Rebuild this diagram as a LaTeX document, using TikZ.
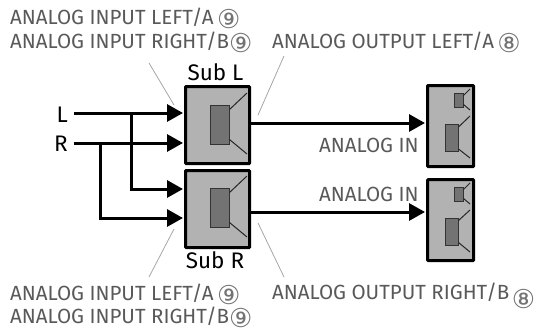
\documentclass[tikz,border=0pt]{standalone}
\usepackage{fontspec}
\setmainfont{Fira Sans}
\newfontfamily\circfont{DejaVu Sans}
\usepackage{xcolor}
\usepackage{tikz}
\usetikzlibrary{arrows.meta, positioning}
\newcommand{\circnine}{\raisebox{-4pt}{\circfont\fontsize{26}{26}\selectfont\color{black!55}⑨}}
\newcommand{\circeight}{\raisebox{-4pt}{\circfont\fontsize{26}{26}\selectfont\color{black!55}⑧}}

\begin{document}
\begin{tikzpicture}[
    x=1pt, y=-1pt,
    cabinet/.style={draw, line width=3.2pt, rounded corners=0.8pt, fill=black!30, inner sep=0pt, anchor=north west},
    driver/.style={draw=black!80, line width=1pt, fill=black!55, inner sep=0pt, anchor=north west},
    cone/.style={draw=black!85, line width=1pt},
    annot/.style={text=black!65, font=\fontsize{20.5}{20.5}\selectfont, anchor=base west, inner sep=0pt},
    spkname/.style={text=black, font=\fontsize{22.5}{22.5}\selectfont, anchor=base, inner sep=0pt},
    wire/.style={line width=3pt},
    arrow/.style={wire, -{Triangle[length=16pt, width=17pt]}},
    leader/.style={draw=black!35, line width=0.8pt}
]
\useasboundingbox (0,0) rectangle (534,332);
% subwoofers
\node[cabinet, minimum width=64pt, minimum height=77pt] (subL) at (184,85) {};
\node[cabinet, minimum width=64pt, minimum height=77pt] (subR) at (184,169) {};
\node[driver, minimum width=19pt, minimum height=39pt] (subLdrv) at (209.5,104.5) {};
\node[driver, minimum width=19pt, minimum height=39pt] (subRdrv) at (209.5,187.5) {};
% main speakers
\node[cabinet, minimum width=46pt, minimum height=81pt] (topL) at (426,84) {};
\node[cabinet, minimum width=46pt, minimum height=81pt] (topR) at (426,178) {};
\node[driver, minimum width=9pt, minimum height=14pt] (topLtw) at (453.5,92.5) {};
\node[driver, minimum width=9pt, minimum height=14pt] (topRtw) at (453.5,186.5) {};
\node[driver, minimum width=13pt, minimum height=27pt] (topLwf) at (444.5,124) {};
\node[driver, minimum width=13pt, minimum height=27pt] (topRwf) at (444.5,217.5) {};
% cones
\coordinate (c1) at (247,93);  \coordinate (c2) at (247,154);
\coordinate (c3) at (247,176); \coordinate (c4) at (247,237);
\draw[cone] (subLdrv.north east) ++(0,5) -- (c1); \draw[cone] (subLdrv.south east) ++(0,-5) -- (c2);
\draw[cone] (subRdrv.north east) ++(0,5) -- (c3); \draw[cone] (subRdrv.south east) ++(0,-5) -- (c4);
\coordinate (t1) at (470,89);  \coordinate (t2) at (470,110);
\coordinate (t3) at (470,116); \coordinate (t4) at (470,158);
\coordinate (t5) at (470,183); \coordinate (t6) at (470,204);
\coordinate (t7) at (470,210); \coordinate (t8) at (470,252);
\draw[cone] (topLtw.north east) ++(0,3) -- (t1); \draw[cone] (topLtw.south east) ++(0,-3) -- (t2);
\draw[cone] (topLwf.north east) ++(0,3) -- (t3); \draw[cone] (topLwf.south east) ++(0,-3) -- (t4);
\draw[cone] (topRtw.north east) ++(0,3) -- (t5); \draw[cone] (topRtw.south east) ++(0,-3) -- (t6);
\draw[cone] (topRwf.north east) ++(0,3) -- (t7); \draw[cone] (topRwf.south east) ++(0,-3) -- (t8);
% names
\node[spkname] (nameL) at (215.5,80) {Sub L};
\node[spkname] (nameR) at (215,268) {Sub R};
\node[spkname, anchor=base east] (inL) at (68,122) {L};
\node[spkname, anchor=base east] (inR) at (68,151) {R};
% connections
\coordinate (lstart) at (74,113); \coordinate (rstart) at (74,143);
\coordinate (subLa) at (183,113); \coordinate (subLb) at (183,143);
\coordinate (subRa) at (183,189); \coordinate (subRb) at (183,218);
\coordinate (jL) at (131,113); \coordinate (jR) at (100,143);
\coordinate (outL) at (249,123); \coordinate (outR) at (249,212);
\coordinate (topLin) at (425,123); \coordinate (topRin) at (425,212);
\draw[arrow] (lstart) -- (subLa);
\draw[arrow] (rstart) -- (subLb);
\draw[arrow] (jL) |- (subRa);
\draw[arrow] (jR) |- (subRb);
\draw[arrow] (outL) -- (topLin);
\draw[arrow] (outR) -- (topRin);
% labels
\node[annot] (lab1) at (10,24) {ANALOG INPUT LEFT/A\,\circnine};
\node[annot] (lab2) at (10,48) {ANALOG INPUT RIGHT/B\circnine};
\node[annot] (lab3) at (272,48) {ANALOG OUTPUT LEFT/A\,\circeight};
\node[annot] (lab4) at (10,300) {ANALOG INPUT LEFT/A\,\circnine};
\node[annot] (lab5) at (10,323) {ANALOG INPUT RIGHT/B\circnine};
\node[annot] (lab6) at (272,299) {ANALOG OUTPUT RIGHT/B};
\node[annot, right=2pt of lab6.base east, anchor=base west, yshift=-5pt] (lab7) {\circeight};
\node[annot] (lab8) at (319,152) {ANALOG IN};
\node[annot] (lab9) at (319,201) {ANALOG IN};
% leaders
\coordinate (l1) at (149,63);  \coordinate (l2) at (174,105);
\coordinate (l3) at (284,56);  \coordinate (l4) at (258,115);
\coordinate (l5) at (149,277); \coordinate (l6) at (174,229);
\coordinate (l7) at (284,277); \coordinate (l8) at (258,223);
\draw[leader] (l1) -- (l2); \draw[leader] (l3) -- (l4);
\draw[leader] (l5) -- (l6); \draw[leader] (l7) -- (l8);
\end{tikzpicture}
\end{document}
